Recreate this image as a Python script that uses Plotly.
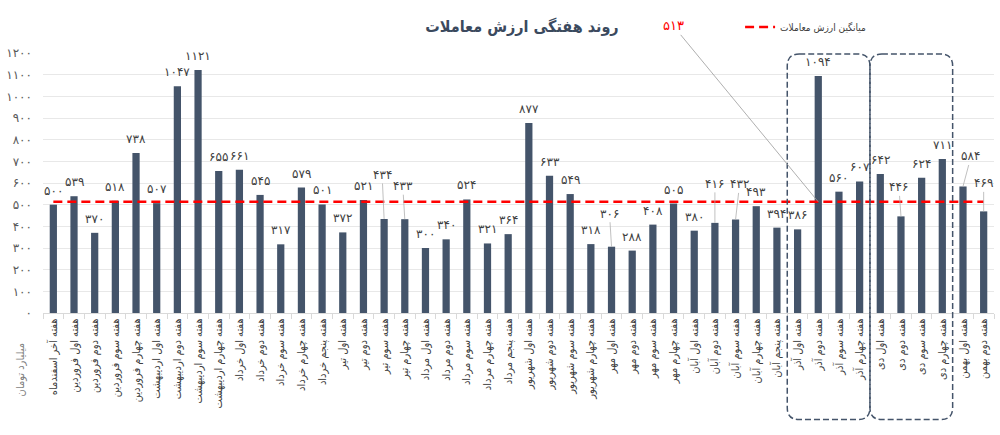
import plotly.graph_objects as go

categories = [
    "هفته آخر اسفندماه", "هفته اول فروردین", "هفته دوم فروردین", "هفته سوم فروردین",
    "هفته چهارم فروردین", "هفته اول اردیبهشت", "هفته دوم اردیبهشت", "هفته سوم اردیبهشت",
    "هفته چهارم اردیبهشت", "هفته اول خرداد", "هفته دوم خرداد", "هفته سوم خرداد",
    "هفته چهارم خرداد", "هفته پنجم خرداد", "هفته اول تیر", "هفته دوم تیر",
    "هفته سوم تیر", "هفته چهارم تیر", "هفته اول مرداد", "هفته دوم مرداد",
    "هفته سوم مرداد", "هفته چهارم مرداد", "هفته پنجم مرداد", "هفته اول شهریور",
    "هفته دوم شهریور", "هفته سوم شهریور", "هفته چهارم شهریور", "هفته اول مهر",
    "هفته دوم مهر", "هفته سوم مهر", "هفته چهارم مهر", "هفته اول آبان",
    "هفته دوم آبان", "هفته سوم آبان", "هفته چهارم آبان", "هفته پنجم آبان",
    "هفته اول آذر", "هفته دوم آذر", "هفته سوم آذر", "هفته چهارم آذر",
    "هفته اول دی", "هفته دوم دی", "هفته سوم دی", "هفته چهارم دی",
    "هفته اول بهمن", "هفته دوم بهمن",
]

values = [
    500, 539, 370, 518, 738, 507, 1047, 1121, 655, 661, 545, 317,
    579, 501, 372, 521, 434, 433, 300, 340, 524, 321, 364, 877,
    633, 549, 318, 306, 288, 408, 505, 380, 416, 432, 493, 394,
    386, 1094, 560, 607, 642, 446, 624, 711, 584, 469,
]

average_value = 513
average_name = "میانگین ارزش معاملات"
title_text = "روند هفتگی ارزش معاملات"
y_title = "میلیارد تومان"
y_ticks = [0, 100, 200, 300, 400, 500, 600, 700, 800, 900, 1000, 1100, 1200]

# highlighted groups (first and last category of each dashed box)
groups = [("هفته اول آذر", "هفته چهارم آذر"), ("هفته اول دی", "هفته چهارم دی")]

# labels drawn with a leader line: category -> (ax, ay) pixel offset
leader_labels = {
    "هفته سوم تیر": (-2, -44),
    "هفته چهارم تیر": (-2, -33),
    "هفته اول مهر": (-2, -33),
    "هفته دوم آبان": (0, -39),
    "هفته سوم آبان": (4, -35),
    "هفته دوم دی": (-2, -29),
    "هفته اول بهمن": (8, -30),
    "هفته دوم بهمن": (0, -28),
}

FA = str.maketrans("0123456789", "۰۱۲۳۴۵۶۷۸۹")


def fa(n):
    return str(n).translate(FA)


FONT = "DejaVu Sans"
CFONT = "DejaVu Sans Condensed, DejaVu Sans"
BAR = "#44546a"
TXT = "#404040"

fig = go.Figure()
fig.add_trace(go.Bar(
    x=categories, y=values, marker=dict(color=BAR, line=dict(width=0)),
    showlegend=False, hoverinfo="x+y",
))
fig.add_trace(go.Scatter(
    x=categories, y=[average_value] * len(categories), mode="lines",
    line=dict(color="#ff0000", width=2.5, dash="9px,5px"),
    name=average_name, showlegend=True,
))

annotations = []
for c, v in zip(categories, values):
    if c in leader_labels:
        ax, ay = leader_labels[c]
        annotations.append(dict(
            x=c, y=v, xref="x", yref="y", text=fa(v), showarrow=True,
            arrowhead=0, arrowwidth=0.8, arrowcolor="#b0b0b0", ax=ax, ay=ay,
            standoff=0, font=dict(family=FONT, size=12, color=TXT),
        ))
    else:
        annotations.append(dict(
            x=c, y=v, xref="x", yref="y", text=fa(v), showarrow=False,
            yanchor="bottom", yshift=5, font=dict(family=FONT, size=12, color=TXT),
        ))

# average value callout
annotations.append(dict(
    x="هفته دوم آذر", y=average_value, xref="x", yref="y", text=fa(average_value),
    showarrow=True, arrowhead=0, arrowwidth=0.8, arrowcolor="#9a9a9a",
    ax=-145, ay=-176, standoff=0,
    font=dict(family=FONT, size=13, color="#ff0000"),
))

# y axis unit label
annotations.append(dict(
    x=-0.024, y=-0.22, xref="paper", yref="paper", text=y_title, textangle=-90,
    xanchor="center", yanchor="middle",
    showarrow=False, font=dict(family=CFONT, size=11, color="#7f7f7f"),
))

n = len(categories)
W, H = 954.0, 260.0
rx, ry = 12 / W, 12 / H


def rrect(x0, x1, y0, y1):
    return (f"M {x0+rx},{y1} L {x1-rx},{y1} Q {x1},{y1} {x1},{y1-ry} "
            f"L {x1},{y0+ry} Q {x1},{y0} {x1-rx},{y0} L {x0+rx},{y0} "
            f"Q {x0},{y0} {x0},{y0+ry} L {x0},{y1-ry} Q {x0},{y1} {x0+rx},{y1} Z")


shapes = []
for a, b in groups:
    i0, i1 = categories.index(a), categories.index(b)
    shapes.append(dict(
        type="path", xref="paper", yref="paper",
        path=rrect(i0 / n, (i1 + 1) / n, -0.41, 0.996),
        line=dict(color=BAR, width=1.5, dash="6px,3px"),
    ))

fig.update_layout(
    width=1000, height=435,
    margin=dict(l=40, r=6, t=53, b=122),
    plot_bgcolor="white", paper_bgcolor="white",
    bargap=0.65,
    font=dict(family=FONT, color=TXT),
    title=dict(text=f"<b>{title_text}</b>", x=0.522, xanchor="center", y=0.94,
               yanchor="middle", font=dict(family=CFONT, size=16, color="#3b4a5e")),
    xaxis=dict(
        type="category", range=[-0.5, n - 0.5], tickangle=-90,
        ticks="outside", tickson="boundaries", ticklen=5, tickcolor="#d9d9d9",
        showline=True, linecolor="#d9d9d9", linewidth=1, showgrid=False,
        tickfont=dict(family=CFONT, size=11, color="#404040"),
    ),
    yaxis=dict(
        range=[0, 1200], tickvals=y_ticks, ticktext=[fa(t) for t in y_ticks],
        showgrid=True, gridcolor="#e8e8e8", zeroline=False, showline=False,
        tickfont=dict(family=FONT, size=12, color="#595959"),
        ticklabelstandoff=10,
    ),
    legend=dict(x=0.733, y=1.1, xanchor="left", yanchor="middle",
                font=dict(family=CFONT, size=10, color=TXT),
                bgcolor="rgba(0,0,0,0)", itemwidth=30),
    annotations=annotations,
    shapes=shapes,
)

fig.write_html("out.html")
